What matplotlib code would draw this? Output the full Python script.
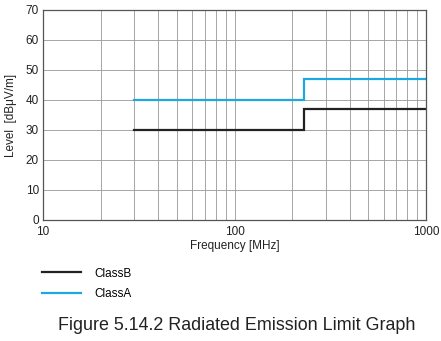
import matplotlib
matplotlib.use("Agg")
import matplotlib.pyplot as plt
from matplotlib.lines import Line2D

plt.rcParams['font.family'] = ['Liberation Sans', 'DejaVu Sans']

# Limit curves: frequency break points (MHz) and level (dBuV/m)
freq = [30, 230, 230, 1000]
class_b = [30, 30, 37, 37]
class_a = [40, 40, 47, 47]

color_b = '#222222'
color_a = '#1ea8e0'

fig = plt.figure(figsize=(4.41, 3.41), dpi=100)
ax = fig.add_axes([43 / 441, 1 - 220 / 341, 383 / 441, 210 / 341])

ax.plot(freq, class_a, color=color_a, lw=1.6, solid_joinstyle='miter')
ax.plot(freq, class_b, color=color_b, lw=1.6, solid_joinstyle='miter')

ax.set_xscale('log')
ax.set_xlim(10, 1000)
ax.set_ylim(0, 70)
ax.set_yticks(range(0, 71, 10))
ax.set_xticks([10, 100, 1000])
ax.set_xticklabels(['10', '100', '1000'])
ax.grid(True, which='both', axis='x', color='#a0a0a0', lw=0.65)
ax.grid(True, which='major', axis='y', color='#a0a0a0', lw=0.65)
ax.tick_params(which='both', length=0, labelsize=8.5, colors='#222222', pad=3)
ax.tick_params(axis='x', pad=4)
ax.minorticks_on()
ax.tick_params(axis='x', which='minor', labelbottom=False)
ax.yaxis.set_minor_locator(matplotlib.ticker.NullLocator())
for s in ax.spines.values():
    s.set_color('#555555')
    s.set_linewidth(0.9)
ax.set_axisbelow(True)

ax.set_xlabel('Frequency [MHz]', fontsize=8.5, color='#222222', labelpad=2)
ax.set_ylabel('Level  [dBμV/m]', fontsize=8.5, color='#222222', labelpad=6)

# Legend drawn below the plot
handles = [Line2D([], [], color=color_b, lw=1.6), Line2D([], [], color=color_a, lw=1.6)]
fig.legend(handles, ['ClassB', 'ClassA'], loc='upper left',
           bbox_to_anchor=(31 / 441, 1 - 257 / 341), frameon=False,
           fontsize=8.5, handlelength=3.3, handletextpad=1.2, labelspacing=0.75)

fig.text(237 / 441, 1 - 326 / 341, 'Figure 5.14.2 Radiated Emission Limit Graph',
         ha='center', va='center', fontsize=12.9, color='#222222')

fig.savefig('out.png', dpi=100)
